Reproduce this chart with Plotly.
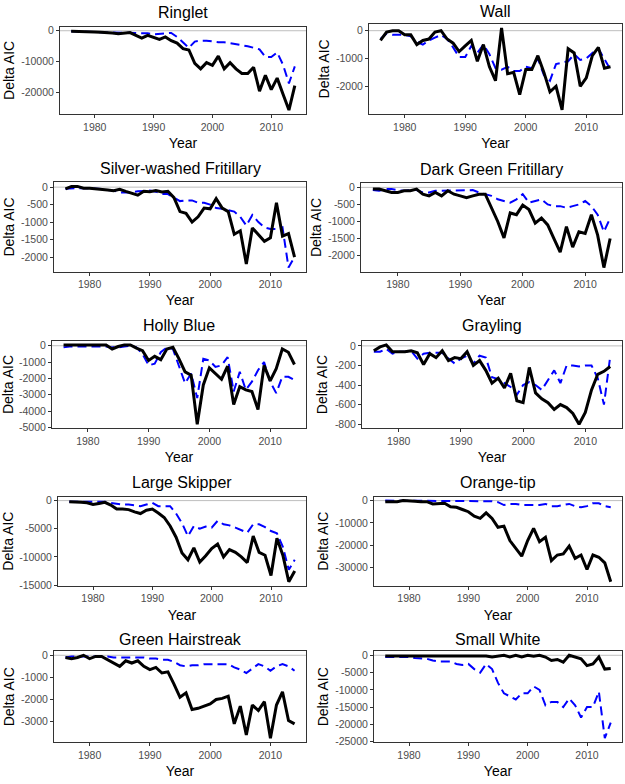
import plotly.graph_objects as go
from plotly.subplots import make_subplots

years = list(range(1976, 2015))

species = ["Ringlet", "Wall", "Silver-washed Fritillary", "Dark Green Fritillary",
           "Holly Blue", "Grayling", "Large Skipper", "Orange-tip",
           "Green Hairstreak", "Small White"]

ringlet_black = [-200, -200, -250, -300, -400, -500, -500, -700, -1000, -700, -600, -1500, -2400, -1500,
                 -2200, -2800, -2000, -3200, -4000, -5800, -6200, -10500, -12300, -10300, -11200, -8200,
                 -12300, -10300, -12300, -13800, -13800, -11800, -19500, -14400, -19000, -15300, -20500,
                 -25600, -17700]
ringlet_blue = [-200, -200, -250, -300, -400, -500, -500, -600, -700, -500, -500, -700, -800, -800,
                -1200, -1000, -800, -700, -2000, -3800, -5500, -3500, -3200, -3200, -3500, -3700,
                -3700, -4000, -4200, -4500, -5000, -5500, -6000, -8500, -8500, -7000, -11000, -17000,
                -11500]

wall_black = [-350, -50, 0, 0, -150, -150, -500, -350, -300, -50, 0, -300, -450, -750, -550, -350,
              -1100, -500, -1300, -1800, 100, -1550, -1500, -2300, -1400, -1400, -900, -1500, -2200,
              -2000, -2850, -650, -800, -2000, -1700, -900, -600, -1350, -1300]
wall_blue = [-300, -100, -150, -150, -150, -200, -400, -500, -350, -250, -150, -300, -600, -950, -950,
             -550, -800, -500, -850, -1350, -1400, -1300, -1450, -1450, -1300, -1350, -1000, -1600,
             -1800, -1200, -1150, -1100, -850, -1050, -1000, -800, -650, -1000, -1400]

silver_black = [-50, 20, 20, -30, -30, -40, -50, -80, -100, -60, -120, -170, -230, -120, -130, -100,
                -140, -120, -300, -700, -750, -1000, -850, -600, -620, -330, -600, -700, -1350,
                -1250, -2200, -1170, -1350, -1550, -1450, -450, -1400, -1330, -2000]
silver_blue = [-50, -30, -30, -30, -30, -40, -50, -80, -100, -150, -160, -150, -120, -110, -100, -130,
               -200, -200, -300, -400, -380, -380, -450, -450, -500, -600, -620, -650, -700, -850,
               -1100, -800, -1000, -1150, -1200, -1200, -1150, -2300, -2000]

darkgreen_black = [-50, -50, -100, -150, -150, -100, -100, -50, -200, -250, -150, -250, -100, -200,
                   -250, -300, -250, -200, -200, -600, -1000, -1480, -750, -800, -520, -650, -1050,
                   -900, -1100, -1500, -1900, -1150, -1750, -1300, -1350, -800, -1400, -2350, -1500]
darkgreen_blue = [-80, -100, -50, -50, -80, -100, -80, -80, -150, -150, -100, -100, -100, -80, -80,
                  -80, -80, -150, -200, -250, -350, -400, -450, -350, -200, -450, -400, -350, -500,
                  -550, -550, -600, -550, -500, -400, -550, -800, -1300, -900]

holly_black = [50, 50, 50, 50, 50, 50, 50, 50, -200, -50, 50, 50, -150, -300, -900, -650, -850, -200,
               -100, -800, -1600, -1800, -4800, -2400, -1350, -1700, -2050, -1250, -3600, -2500,
               -2700, -2800, -3900, -1200, -2150, -1400, -200, -400, -1150]
holly_blue = [-100, -50, -50, -50, -50, -50, -50, -50, -100, -100, -50, 0, -100, -500, -1200, -1100,
              -400, -100, -200, -1300, -2300, -1700, -3200, -800, -900, -1300, -1200, -700, -2800,
              -1600, -2700, -2200, -1500, -1000, -2200, -2900, -1900, -1900, -2100]

grayling_black = [-50, -10, 10, -60, -60, -60, -50, -70, -190, -80, -120, -50, -150, -120, -130, -60,
                  -200, -150, -250, -380, -330, -430, -280, -560, -580, -220, -480, -540, -580, -650,
                  -600, -630, -690, -800, -680, -450, -290, -260, -210]
grayling_blue = [-60, -60, -30, -80, -60, -60, -50, -130, -80, -70, -70, -70, -130, -180, -130, -100,
                 -180, -100, -120, -320, -340, -380, -420, -500, -400, -370, -400, -450, -350, -250,
                 -380, -200, -200, -210, -200, -200, -330, -600, -110]

skipper_black = [-200, -200, -300, -400, -700, -500, -300, -800, -1500, -1500, -1600, -2000, -2300,
                 -1700, -1500, -2200, -3000, -4500, -6500, -9300, -10500, -8400, -10900, -9800, -8500,
                 -7700, -10000, -8700, -9200, -10000, -11000, -6300, -9200, -9700, -13300, -6700,
                 -9700, -14400, -12500]
skipper_blue = [-200, -200, -200, -200, -300, -300, -200, -400, -600, -700, -700, -900, -1000, -700,
                -400, -1000, -1000, -1000, -2300, -4000, -6300, -4500, -5000, -4600, -4800, -3600,
                -4200, -4400, -4800, -5200, -5700, -4200, -4200, -4700, -5400, -5800, -8200, -12300,
                -10500]

orange_black = [-500, -500, -500, 0, -300, -300, -500, -500, -1500, -1500, -1200, -2800, -3000, -4000,
                -5000, -7000, -8000, -5500, -8000, -12000, -11500, -18000, -21500, -25000, -18000,
                -12500, -18500, -16500, -27000, -24500, -24000, -20500, -26000, -24500, -31000,
                -24500, -25500, -28000, -36500]
orange_blue = [0, 0, 0, 0, 0, 0, 0, 0, 0, 0, 0, -300, -300, -300, -300, -300, -300, -300, -300, -700,
               -2000, -1500, -1500, -2000, -2000, -2000, -2000, -1500, -2500, -2500, -2000, -1500,
               -2500, -3000, -2500, -1200, -1200, -2500, -3000]

hair_black = [-100, -150, -100, 0, -150, -50, -50, -200, -350, -500, -250, -350, -250, -500, -650, -550,
              -800, -750, -1300, -1900, -1700, -2450, -2400, -2300, -2200, -2000, -1950, -1850, -3100,
              -2300, -3600, -2250, -2500, -2100, -3750, -2250, -1650, -2950, -3100]
hair_blue = [-100, -50, -50, -50, -50, -50, -50, -50, -100, -100, -100, -100, -100, -100, -150, -150,
             -200, -200, -300, -450, -500, -450, -450, -400, -400, -400, -400, -400, -550, -650, -800,
             -600, -400, -500, -700, -500, -400, -500, -700]

white_black = [-200, -200, -200, -200, -200, -200, -200, -200, -200, -200, -200, -200, -200, -200, -200,
               -200, -200, -200, -500, -300, 0, -500, 0, -500, 0, -300, 0, -500, -1500, -1200, -2000,
               0, -500, -1000, -3000, -2500, -500, -4000, -3800]
white_blue = [-500, -500, -500, -500, -500, -800, -800, -1000, -1500, -1800, -1800, -1800, -2500, -2800,
              -2500, -4000, -5000, -2500, -4000, -8000, -11000, -12000, -12800, -11000, -11000, -9000,
              -10000, -14500, -13500, -13500, -15000, -12500, -14500, -18000, -15000, -15000, -10500,
              -24000, -19500]

black_series = [ringlet_black, wall_black, silver_black, darkgreen_black, holly_black,
                grayling_black, skipper_black, orange_black, hair_black, white_black]
blue_series = [ringlet_blue, wall_blue, silver_blue, darkgreen_blue, holly_blue,
               grayling_blue, skipper_blue, orange_blue, hair_blue, white_blue]

y_ticks = [
    [-20000, -10000, 0],
    [-3000, -2000, -1000, 0],
    [-2000, -1500, -1000, -500, 0],
    [-2000, -1500, -1000, -500, 0],
    [-5000, -4000, -3000, -2000, -1000, 0],
    [-800, -600, -400, -200, 0],
    [-15000, -10000, -5000, 0],
    [-30000, -20000, -10000, 0],
    [-3000, -2000, -1000, 0],
    [-25000, -20000, -15000, -10000, -5000, 0],
]
x_ticks = [1980, 1990, 2000, 2010]

# Layout: plot-box pixel positions (left, right, top, bottom) and title centre y
W, H = 625, 784
boxes = [
    (60, 306, 25, 113, 11), (369, 622, 22, 113, 10),
    (54, 306, 182, 272, 168), (361, 622, 183, 272, 169),
    (52, 306, 342, 430, 326), (362, 622, 342, 430, 326),
    (58, 306, 499, 589, 485), (374, 622, 499, 589, 485),
    (54, 306, 655, 747, 643), (374, 622, 655, 747, 643),
]

fig = make_subplots(rows=5, cols=2)

tick_font = dict(family="Liberation Sans, Arial, sans-serif", size=10.5, color="#4D4D4D")
title_font = dict(family="Liberation Sans, Arial, sans-serif", size=14, color="#000000")

annotations = []
shapes = []
for i in range(10):
    r, c = i // 2 + 1, i % 2 + 1
    blk, blu = black_series[i], blue_series[i]
    fig.add_trace(go.Scatter(x=years, y=blu, mode="lines", showlegend=False,
                             line=dict(color="#0000FF", width=2, dash="9px,5px")), row=r, col=c)
    fig.add_trace(go.Scatter(x=years, y=blk, mode="lines", showlegend=False,
                             line=dict(color="#000000", width=3)), row=r, col=c)
    lo = min(min(blk), min(blu), 0)
    hi = max(max(blk), max(blu), 0)
    pad = 0.05 * (hi - lo)
    l, rr, t, b, ty = boxes[i]
    sfx = "" if i == 0 else str(i + 1)
    fig.layout["xaxis" + sfx].update(
        domain=[l / W, rr / W], range=[1976 - 0.05 * 38, 2014 + 0.05 * 38],
        tickvals=x_ticks, ticktext=[str(v) for v in x_ticks],
        showgrid=False, zeroline=False, showline=True, mirror=True,
        linecolor="#333333", linewidth=1, ticks="outside", ticklen=3, tickcolor="#333333",
        tickfont=tick_font, title=dict(text="Year", font=title_font, standoff=6))
    fig.layout["yaxis" + sfx].update(
        domain=[1 - b / H, 1 - t / H], range=[lo - pad, hi + pad],
        tickvals=y_ticks[i], ticktext=[str(v) for v in y_ticks[i]],
        showgrid=False, zeroline=False, showline=True, mirror=True,
        linecolor="#333333", linewidth=1, ticks="outside", ticklen=3, tickcolor="#333333",
        tickfont=tick_font, title=dict(text="Delta AIC", font=title_font, standoff=3))
    shapes.append(dict(type="line", xref=("x" + sfx) + " domain", x0=0, x1=1,
                       yref="y" + sfx, y0=0, y1=0, line=dict(color="#BEBEBE", width=1), layer="below"))
    annotations.append(dict(text=species[i], x=(l + rr) / 2 / W, y=1 - ty / H,
                            xref="paper", yref="paper", xanchor="center", yanchor="middle",
                            showarrow=False,
                            font=dict(family="Liberation Sans, Arial, sans-serif", size=16, color="#000000")))

fig.update_layout(width=W, height=H, margin=dict(l=0, r=0, t=0, b=0),
                  plot_bgcolor="white", paper_bgcolor="white",
                  annotations=annotations, shapes=shapes)

fig.write_html("out.html", config={"displayModeBar": False},
               post_script="document.body.style.margin='0px';document.body.style.overflow='hidden';")
